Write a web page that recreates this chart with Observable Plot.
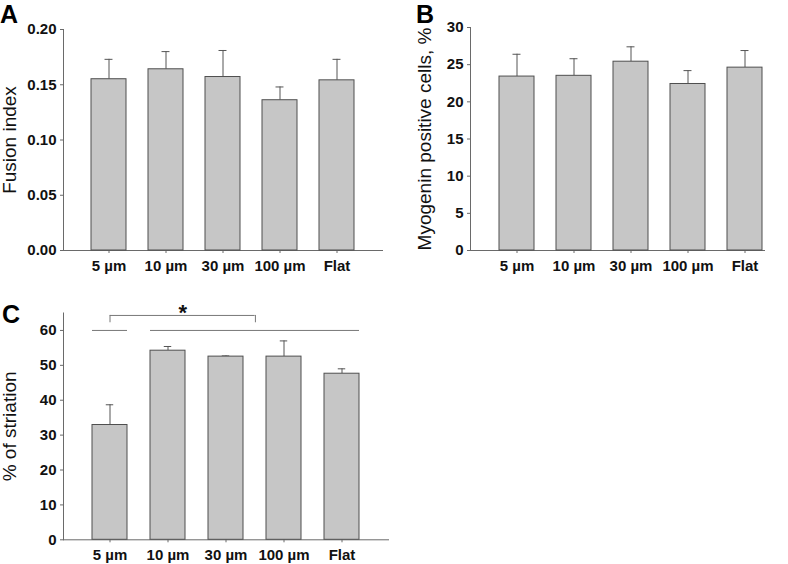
<!DOCTYPE html>
<html><head><meta charset="utf-8">
<script src="https://cdn.jsdelivr.net/npm/d3@7"></script>
<script src="https://cdn.jsdelivr.net/npm/@observablehq/plot@0.6"></script>
<style>
body{margin:0;background:#fff;}
#wrap{position:relative;width:788px;height:564px;overflow:hidden;font-family:"Liberation Sans",Arial,sans-serif;background:#fff;}
.panel{position:absolute;}
.letter{position:absolute;font-weight:bold;font-size:25px;line-height:normal;color:#000;}
</style></head><body><div id="wrap"></div>
<script>
// ---- data ----
const categories = ["5 µm", "10 µm", "30 µm", "100 µm", "Flat"];
const fusionMean = [0.155, 0.164, 0.157, 0.136, 0.154];
const fusionUpper = [0.173, 0.180, 0.181, 0.148, 0.173];
const myogeninMean = [23.4, 23.5, 25.4, 22.4, 24.6];
const myogeninUpper = [26.4, 25.8, 27.4, 24.2, 26.9];
const striationMean = [32.9, 54.2, 52.5, 52.5, 47.6];
const striationUpper = [38.7, 55.4, 52.7, 57.0, 49.0];
const fusionTicks = [0, 0.05, 0.10, 0.15, 0.20];
const myogeninTicks = [0, 5, 10, 15, 20, 25, 30];
const striationTicks = [0, 10, 20, 30, 40, 50, 60];
const groupLines = [{from: "5 µm", to: "5 µm", y: 60}, {from: "10 µm", to: "Flat", y: 60}];
const brackets = [{from: "5 µm", to: "30 µm", mid: "10 µm", low: 62.2, high: 64.3, label: "*"}];

const FONT = '"Liberation Sans", Arial, sans-serif';
const AXIS = "#6a6a6a";
const ERR = "#555";

function panel({means, uppers, ticks, domain, fmt, label, width, height, ml, mr, mt, mb, pi, po, align, labelOffset, extra}) {
  const data = categories.map((c, i) => ({c, m: means[i], u: uppers[i]}));
  const step = (width - ml - mr) / (categories.length - pi + 2 * po);
  const bw = step * (1 - pi);
  const marks = [
    Plot.frame({anchor: "left", stroke: AXIS}),
    Plot.frame({anchor: "bottom", stroke: AXIS}),
    Plot.axisY({ticks, tickSize: 3, tickPadding: 4, tickFormat: fmt, label, labelAnchor: "center", labelArrow: "none", labelOffset, stroke: AXIS}),
    Plot.axisX({tickSize: 3, tickPadding: 7, label: null, stroke: AXIS}),
    Plot.ruleX(data, {x: "c", y1: "m", y2: "u", stroke: ERR}),
    Plot.tickY(data, {x: "c", y: "u", stroke: ERR, insetLeft: bw / 2 - 4, insetRight: bw / 2 - 4}),
    Plot.barY(data, {x: "c", y: "m", fill: "#c6c6c6", stroke: "#4f4f4f"}),
    ...(extra ? extra(step, bw) : [])
  ];
  const svg = Plot.plot({
    width, height, marginLeft: ml, marginRight: mr, marginTop: mt, marginBottom: mb,
    style: {fontFamily: FONT, fontSize: "15px", fontWeight: "bold", color: "#111", background: "white", overflow: "visible"},
    x: {domain: categories, paddingInner: pi, paddingOuter: po, align},
    y: {domain, label},
    marks
  });
  d3.select(svg).selectAll('g[aria-label="y-axis label"] text')
    .style("font-size", "19px").style("font-weight", "normal");
  return svg;
}

const wrap = document.getElementById("wrap");
function place(svg, left, top) {
  const d = document.createElement("div");
  d.className = "panel"; d.style.left = left + "px"; d.style.top = top + "px";
  d.appendChild(svg); wrap.appendChild(d);
}
function letter(t, left, top) {
  const d = document.createElement("div");
  d.className = "letter"; d.textContent = t; d.style.left = left + "px"; d.style.top = top + "px";
  wrap.appendChild(d);
}

place(panel({means: fusionMean, uppers: fusionUpper, ticks: fusionTicks, domain: [0, 0.2], fmt: d3.format(".2f"),
  label: "Fusion index", width: 394, height: 282, ml: 63, mr: 12, mt: 29, mb: 32, pi: 0.39, po: 0.47, align: 0.5, labelOffset: 61}), 0, 0);

place(panel({means: myogeninMean, uppers: myogeninUpper, ticks: myogeninTicks, domain: [0, 30], fmt: d3.format("d"),
  label: "Myogenin positive cells, %", width: 394, height: 282, ml: 76, mr: 24, mt: 27, mb: 32, pi: 0.394, po: 0.24, align: 0.92, labelOffset: 53}), 394, 0);

place(panel({means: striationMean, uppers: striationUpper, ticks: striationTicks, domain: [0, 65], fmt: d3.format("d"),
  label: "% of striation", width: 394, height: 282, ml: 63, mr: 6, mt: 30.5, mb: 24.7, pi: 0.396, po: 0.46, align: 0.5, labelOffset: 61,
  extra: (step, bw) => [
    Plot.ruleY(groupLines, {x1: "from", x2: "to", y: "y", stroke: "#777"}),
    Plot.ruleY(brackets, {x1: "from", x2: "to", y: "high", stroke: "#777", insetLeft: bw / 2, insetRight: -(step - bw) / 2}),
    Plot.ruleX(brackets, {x: "from", y1: "low", y2: "high", stroke: "#777"}),
    Plot.ruleX(brackets, {x: "to", y1: "low", y2: "high", stroke: "#777", dx: step / 2}),
    Plot.text(brackets, {x: "mid", y: "high", text: "label", dx: step / 4, dy: 5, lineAnchor: "bottom", fontSize: 22, fontWeight: "bold", fill: "#111"})
  ]}), 0, 282);

letter("A", 0, 0);
letter("B", 416, 0);
letter("C", 2, 300);
</script></body></html>
